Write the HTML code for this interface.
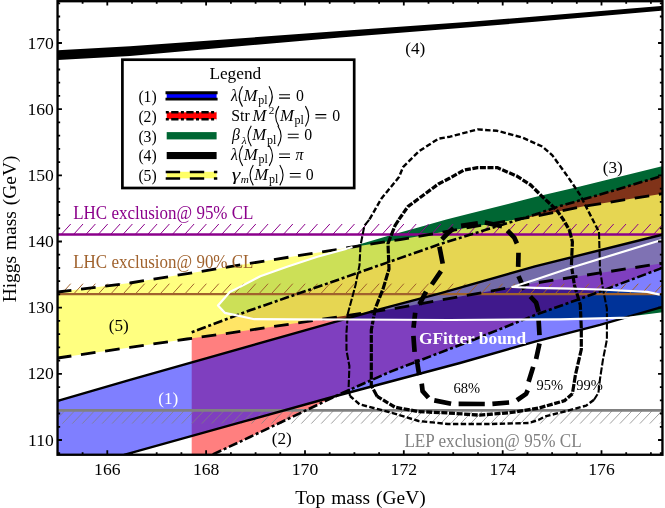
<!DOCTYPE html>
<html><head><meta charset="utf-8"><title>Higgs mass vs Top mass</title>
<style>
html,body{margin:0;padding:0;background:#fff;}
body{width:665px;height:508px;overflow:hidden;font-family:"Liberation Serif",serif;}
svg{display:block;will-change:transform;}
text{font-family:"Liberation Serif",serif;}
</style></head><body>
<svg width="665" height="508" viewBox="0 0 665 508">
<defs>
<clipPath id="cp"><rect x="57.7" y="1.2" width="604.8" height="453.6"/></clipPath>
</defs>
<rect width="665" height="508" fill="#fff"/>
<g clip-path="url(#cp)">
<path d="M666.0 165.4 L661.0 166.6 L580.0 186.5 L535.0 197.1 L470.0 213.6 L446.3 219.4 L420.0 226.9 L392.8 234.5 L355.6 245.4 L345.0 249.2 L317.4 256.7 L287.8 266.5 L260.3 276.3 L240.6 286.6 L229.8 292.1 L218.0 305.5 L224.8 312.8 L236.7 315.3 L254.4 319.2 L293.7 319.3 L345.0 319.5 L450.0 320.0 L560.0 319.3 L629.5 317.7 L661.0 313.7 L666.0 313.0 Z M666.0 238.6 L659.0 240.8 L570.0 268.0 L535.0 279.8 L512.3 287.0 L535.0 287.8 L570.0 288.6 L600.0 289.5 L647.3 291.9 L659.8 294.6 L666.0 295.5 Z" fill="#006633" fill-rule="evenodd"/>
<path d="M191.7 332.3 L250.0 310.3 L330.0 282.6 L440.0 244.1 L535.0 214.6 L560.0 206.0 L600.0 194.6 L661.0 176.2 L666.0 174.7 L666.0 266.6 L661.0 268.4 L594.7 293.5 L535.0 315.0 L470.0 341.2 L416.6 361.6 L390.0 371.9 L342.4 393.0 L250.0 437.0 L212.5 454.6 L191.7 464.5 Z" fill="#ff0000" fill-opacity="0.5"/>
<path d="M57.7 292.0 L130.0 283.0 L249.4 263.5 L345.0 248.2 L400.0 239.6 L460.0 229.0 L535.0 216.3 L584.0 206.3 L661.0 193.9 L666.0 193.1 L666.0 262.7 L661.0 263.5 L535.0 283.1 L460.0 296.6 L395.0 308.4 L345.0 315.8 L250.0 330.1 L187.0 339.0 L130.0 347.4 L57.7 358.0 Z" fill="#ffff60" fill-opacity="0.8"/>
<path d="M57.7 400.9 L130.0 379.8 L381.2 308.8 L440.0 293.3 L535.0 266.4 L661.0 235.0 L666.0 233.7 L666.0 305.9 L661.6 307.2 L600.0 324.9 L535.0 341.7 L460.0 363.0 L336.0 396.0 L245.0 421.2 L124.0 454.8 L57.7 460.0 Z" fill="#0000ff" fill-opacity="0.5"/>
<path d="M57.7 50.2 L130.0 46.3 L340.0 31.1 L470.0 21.7 L535.0 16.5 L661.0 6.0 L666.0 5.6 L666.0 10.4 L661.0 10.8 L535.0 21.8 L470.0 27.2 L340.0 37.4 L130.0 56.0 L57.7 60.1 Z" fill="#000"/>
<path d="M61.2 234.5l9.5 -10.5M73.5 234.5l9.5 -10.5M85.9 234.5l9.5 -10.5M98.2 234.5l9.5 -10.5M110.6 234.5l9.5 -10.5M122.9 234.5l9.5 -10.5M135.2 234.5l9.5 -10.5M147.6 234.5l9.5 -10.5M159.9 234.5l9.5 -10.5M172.3 234.5l9.5 -10.5M184.6 234.5l9.5 -10.5M196.9 234.5l9.5 -10.5M209.3 234.5l9.5 -10.5M221.6 234.5l9.5 -10.5M234.0 234.5l9.5 -10.5M246.3 234.5l9.5 -10.5M258.6 234.5l9.5 -10.5M271.0 234.5l9.5 -10.5M283.3 234.5l9.5 -10.5M295.7 234.5l9.5 -10.5M308.0 234.5l9.5 -10.5M320.3 234.5l9.5 -10.5M332.7 234.5l9.5 -10.5M345.0 234.5l9.5 -10.5M357.4 234.5l9.5 -10.5M369.7 234.5l9.5 -10.5M382.0 234.5l9.5 -10.5M394.4 234.5l9.5 -10.5M406.7 234.5l9.5 -10.5M419.1 234.5l9.5 -10.5M431.4 234.5l9.5 -10.5M443.7 234.5l9.5 -10.5M456.1 234.5l9.5 -10.5M468.4 234.5l9.5 -10.5M480.8 234.5l9.5 -10.5M493.1 234.5l9.5 -10.5M505.4 234.5l9.5 -10.5M517.8 234.5l9.5 -10.5M530.1 234.5l9.5 -10.5M542.5 234.5l9.5 -10.5M554.8 234.5l9.5 -10.5M567.1 234.5l9.5 -10.5M579.5 234.5l9.5 -10.5M591.8 234.5l9.5 -10.5M604.2 234.5l9.5 -10.5M616.5 234.5l9.5 -10.5M628.8 234.5l9.5 -10.5M641.2 234.5l9.5 -10.5M653.5 234.5l9.5 -10.5M665.9 234.5l9.5 -10.5" stroke="#8b008b" stroke-width="1.0" fill="none"/>
<path d="M61.2 294.2l9.5 -10.5M73.5 294.2l9.5 -10.5M85.9 294.2l9.5 -10.5M98.2 294.2l9.5 -10.5M110.6 294.2l9.5 -10.5M122.9 294.2l9.5 -10.5M135.2 294.2l9.5 -10.5M147.6 294.2l9.5 -10.5M159.9 294.2l9.5 -10.5M172.3 294.2l9.5 -10.5M184.6 294.2l9.5 -10.5M196.9 294.2l9.5 -10.5M209.3 294.2l9.5 -10.5M221.6 294.2l9.5 -10.5M234.0 294.2l9.5 -10.5M246.3 294.2l9.5 -10.5M258.6 294.2l9.5 -10.5M271.0 294.2l9.5 -10.5M283.3 294.2l9.5 -10.5M295.7 294.2l9.5 -10.5M308.0 294.2l9.5 -10.5M320.3 294.2l9.5 -10.5M332.7 294.2l9.5 -10.5M345.0 294.2l9.5 -10.5M357.4 294.2l9.5 -10.5M369.7 294.2l9.5 -10.5M382.0 294.2l9.5 -10.5M394.4 294.2l9.5 -10.5M406.7 294.2l9.5 -10.5M419.1 294.2l9.5 -10.5M431.4 294.2l9.5 -10.5M443.7 294.2l9.5 -10.5M456.1 294.2l9.5 -10.5M468.4 294.2l9.5 -10.5M480.8 294.2l9.5 -10.5M493.1 294.2l9.5 -10.5M505.4 294.2l9.5 -10.5M517.8 294.2l9.5 -10.5M530.1 294.2l9.5 -10.5M542.5 294.2l9.5 -10.5M554.8 294.2l9.5 -10.5M567.1 294.2l9.5 -10.5M579.5 294.2l9.5 -10.5M591.8 294.2l9.5 -10.5M604.2 294.2l9.5 -10.5M616.5 294.2l9.5 -10.5M628.8 294.2l9.5 -10.5M641.2 294.2l9.5 -10.5M653.5 294.2l9.5 -10.5M665.9 294.2l9.5 -10.5" stroke="#a0622d" stroke-width="1.0" fill="none"/>
<path d="M65.0 410.4l-12.6 13.2M75.0 410.4l-12.6 13.2M84.9 410.4l-12.6 13.2M94.9 410.4l-12.6 13.2M104.8 410.4l-12.6 13.2M114.8 410.4l-12.6 13.2M124.7 410.4l-12.6 13.2M134.7 410.4l-12.6 13.2M144.7 410.4l-12.6 13.2M154.6 410.4l-12.6 13.2M164.6 410.4l-12.6 13.2M174.5 410.4l-12.6 13.2M184.5 410.4l-12.6 13.2M194.4 410.4l-12.6 13.2M204.4 410.4l-12.6 13.2M214.4 410.4l-12.6 13.2M224.3 410.4l-12.6 13.2M234.3 410.4l-12.6 13.2M244.2 410.4l-12.6 13.2M254.2 410.4l-12.6 13.2M264.1 410.4l-12.6 13.2M274.1 410.4l-12.6 13.2M284.1 410.4l-12.6 13.2M294.0 410.4l-12.6 13.2M304.0 410.4l-12.6 13.2M313.9 410.4l-12.6 13.2M323.9 410.4l-12.6 13.2M333.8 410.4l-12.6 13.2M343.8 410.4l-12.6 13.2M353.8 410.4l-12.6 13.2M363.7 410.4l-12.6 13.2M373.7 410.4l-12.6 13.2M383.6 410.4l-12.6 13.2M393.6 410.4l-12.6 13.2M403.5 410.4l-12.6 13.2M413.5 410.4l-12.6 13.2M423.5 410.4l-12.6 13.2M433.4 410.4l-12.6 13.2M443.4 410.4l-12.6 13.2M453.3 410.4l-12.6 13.2M463.3 410.4l-12.6 13.2M473.2 410.4l-12.6 13.2M483.2 410.4l-12.6 13.2M493.2 410.4l-12.6 13.2M503.1 410.4l-12.6 13.2M513.1 410.4l-12.6 13.2M523.0 410.4l-12.6 13.2M533.0 410.4l-12.6 13.2M542.9 410.4l-12.6 13.2M552.9 410.4l-12.6 13.2M562.8 410.4l-12.6 13.2M572.8 410.4l-12.6 13.2M582.8 410.4l-12.6 13.2M592.7 410.4l-12.6 13.2M602.7 410.4l-12.6 13.2M612.6 410.4l-12.6 13.2M622.6 410.4l-12.6 13.2M632.5 410.4l-12.6 13.2M642.5 410.4l-12.6 13.2M652.5 410.4l-12.6 13.2M662.4 410.4l-12.6 13.2M672.4 410.4l-12.6 13.2" stroke="#808080" stroke-width="0.75" fill="none"/>
<line x1="57" x2="664" y1="234.5" y2="234.5" stroke="#8b008b" stroke-width="2.5"/>
<line x1="57" x2="664" y1="294.1" y2="294.1" stroke="#a0622d" stroke-width="2.4"/>
<line x1="57" x2="664" y1="410.4" y2="410.4" stroke="#808080" stroke-width="2.7"/>
<path d="M57.7 400.9 L130.0 379.8 L381.2 308.8 L440.0 293.3 L535.0 266.4 L661.0 235.0 L666.0 233.7" fill="none" stroke="#000" stroke-width="2.4"/>
<path d="M124.0 454.8 L245.0 421.2 L336.0 396.0 L460.0 363.0 L535.0 341.7 L600.0 324.9 L661.6 307.2 L666.0 305.9" fill="none" stroke="#000" stroke-width="2.4"/>
<path d="M191.7 332.3 L250.0 310.3 L330.0 282.6 L440.0 244.1 L535.0 214.6 L560.0 206.0 L600.0 194.6 L661.0 176.2 L666.0 174.7" fill="none" stroke="#000" stroke-width="2.6" stroke-dasharray="3 2.7 9.3 2.7"/>
<path d="M191.7 464.5 L212.5 454.6 L250.0 437.0 L342.4 393.0 L390.0 371.9 L416.6 361.6 L470.0 341.2 L535.0 315.0 L594.7 293.5 L661.0 268.4 L666.0 266.6" fill="none" stroke="#000" stroke-width="2.6" stroke-dasharray="3 2.7 9.3 2.7"/>
<path d="M57.7 292.0 L130.0 283.0 L249.4 263.5 L345.0 248.2 L400.0 239.6 L460.0 229.0 L535.0 216.3 L584.0 206.3 L661.0 193.9 L666.0 193.1" fill="none" stroke="#000" stroke-width="2.8" stroke-dasharray="14.7 9.7" stroke-dashoffset="0.9"/>
<path d="M57.7 358.0 L130.0 347.4 L187.0 339.0 L250.0 330.1 L345.0 315.8 L395.0 308.4 L460.0 296.6 L535.0 283.1 L661.0 263.5 L666.0 262.7" fill="none" stroke="#000" stroke-width="2.8" stroke-dasharray="14.7 9.7" stroke-dashoffset="0.9"/>
<path d="M369.5 219.4 L381.3 198.7 L399.0 177.1 L403.0 167.2 L418.7 151.5 L438.4 138.7 L450.0 136.7 L477.6 129.4 L497.2 130.8 L522.8 137.7 L542.5 146.6 L552.4 155.4 L568.1 177.1 L580.0 194.8 L599.0 232.0" fill="none" stroke="#000" stroke-width="2.4" stroke-dasharray="5.4 2.4" stroke-linejoin="round"/>
<path d="M599.0 232.0 L600.0 269.4 L603.0 289.0 L606.9 308.7 L606.9 339.7 L603.0 359.4 L600.0 379.0 L598.4 392.8 L594.0 399.7" fill="none" stroke="#000" stroke-width="2.1" stroke-dasharray="7.2 1.9" stroke-linejoin="round"/>
<path d="M594.0 399.7 L586.2 405.6 L564.5 411.5 L545.0 416.5 L538.4 420.0 L528.6 423.0 L489.2 424.0 L448.0 424.0 L418.6 421.0 L389.0 412.0 L359.5 404.3 L350.0 396.0" fill="none" stroke="#000" stroke-width="2.4" stroke-dasharray="5.4 2.4" stroke-linejoin="round"/>
<path d="M350.0 396.0 L348.6 388.0 L349.4 366.0 L346.5 350.6 L346.4 333.3 L347.8 313.8 L355.6 284.8 L359.5 265.1 L360.5 245.4 L364.4 225.7 L369.5 219.4" fill="none" stroke="#000" stroke-width="2.1" stroke-dasharray="7.2 1.9" stroke-linejoin="round"/>
<path d="M399.0 219.4 L407.9 206.6 L438.4 184.0 L450.0 178.0 L463.8 170.2 L477.6 167.6 L497.2 167.6 L516.9 176.1 L530.7 185.0 L542.5 196.8 L556.3 209.6 L563.2 219.4 L569.4 230.0" fill="none" stroke="#000" stroke-width="3.3" stroke-dasharray="6 1.6" stroke-linejoin="round"/>
<path d="M569.4 230.0 L572.4 241.8 L571.4 265.4 L574.4 285.1 L580.3 304.8 L581.3 328.4 L581.3 349.5 L575.4 375.0 L572.4 393.8" fill="none" stroke="#000" stroke-width="3.2" stroke-dasharray="7.8 1.4" stroke-linejoin="round"/>
<path d="M572.4 393.8 L564.5 400.7 L538.4 408.2 L509.0 412.8 L479.4 415.1 L448.0 413.0 L418.6 411.6 L395.0 407.2 L377.2 396.4" fill="none" stroke="#000" stroke-width="3.3" stroke-dasharray="6 1.6" stroke-linejoin="round"/>
<path d="M377.2 396.4 L371.3 385.6 L371.3 330.0 L375.3 308.4 L383.1 288.7 L389.0 269.0 L388.0 243.5 L395.0 225.7 L399.0 219.4" fill="none" stroke="#000" stroke-width="3.2" stroke-dasharray="7.8 1.4" stroke-linejoin="round"/>
<path d="M441.9 239.3 L447.5 233.5 L453.6 228.4 M461.1 225.9 L477.9 223.4 M484.8 222.5 L502.0 226.3 M507.4 230.5 L514.3 237.6 L516.9 243.5 M518.5 252.7 L518.2 266.9 M518.5 276.1 L524.4 289.5 M530.3 296.5 L536.1 302.6 L538.6 311.8 M538.6 320.2 L539.5 335.2 M539.5 343.6 L536.1 359.0 M533.2 366.9 L528.6 381.8 M527.7 390.2 L526.1 393.9 L516.9 400.3 M509.1 402.5 L492.4 403.8 M484.8 404.0 L458.6 403.9 M451.1 403.7 L434.3 400.4 M428.5 397.8 L422.6 391.1 L421.7 383.6 M419.2 375.2 L416.7 359.3 M414.6 351.9 L413.4 335.9 M413.5 327.7 L415.2 312.7 M419.4 304.3 L426.1 291.7 M431.8 284.5 L441.0 271.1 M442.7 263.6 L439.4 246.8" fill="none" stroke="#000" stroke-width="4.7" stroke-linejoin="round"/>
<path d="M352.5 247.0 L345.0 249.2 L317.4 256.7 L287.8 266.5 L260.3 276.3 L240.6 286.6 L229.8 292.1 L218.0 305.5 L224.8 312.8 L236.7 315.3 L254.4 319.2 L293.7 319.3 L345.0 319.5 L450.0 320.0 L560.0 319.3 L629.5 317.7 L661.0 313.7 L666.0 313.0" fill="none" stroke="#fff" stroke-width="2.2" stroke-linejoin="round"/>
<path d="M666.0 238.6 L659.0 240.8 L570.0 268.0 L535.0 279.8 L512.3 287.0 L535.0 287.8 L570.0 288.6 L600.0 289.5 L647.3 291.9 L659.8 294.6" fill="none" stroke="#fff" stroke-width="2.2" stroke-linejoin="round"/>
</g>
<rect x="57.55" y="1.2" width="604.9000000000001" height="453.55" fill="none" stroke="#000" stroke-width="2.35"/>
<path d="M57.9 454.75v-2.6M57.9 1.2v2.6M82.6 454.75v-2.6M82.6 1.2v2.6M107.3 454.75v-4.4M107.3 1.2v4.4M132.0 454.75v-2.6M132.0 1.2v2.6M156.7 454.75v-2.6M156.7 1.2v2.6M181.4 454.75v-2.6M181.4 1.2v2.6M206.1 454.75v-4.4M206.1 1.2v4.4M230.9 454.75v-2.6M230.9 1.2v2.6M255.6 454.75v-2.6M255.6 1.2v2.6M280.3 454.75v-2.6M280.3 1.2v2.6M305.0 454.75v-4.4M305.0 1.2v4.4M329.7 454.75v-2.6M329.7 1.2v2.6M354.4 454.75v-2.6M354.4 1.2v2.6M379.1 454.75v-2.6M379.1 1.2v2.6M403.8 454.75v-4.4M403.8 1.2v4.4M428.5 454.75v-2.6M428.5 1.2v2.6M453.2 454.75v-2.6M453.2 1.2v2.6M478.0 454.75v-2.6M478.0 1.2v2.6M502.7 454.75v-4.4M502.7 1.2v4.4M527.4 454.75v-2.6M527.4 1.2v2.6M552.1 454.75v-2.6M552.1 1.2v2.6M576.8 454.75v-2.6M576.8 1.2v2.6M601.5 454.75v-4.4M601.5 1.2v4.4M626.2 454.75v-2.6M626.2 1.2v2.6M650.9 454.75v-2.6M650.9 1.2v2.6M57.55 453.2h2.6M662.45 453.2h-2.6M57.55 440.0h4.4M662.45 440.0h-4.4M57.55 426.8h2.6M662.45 426.8h-2.6M57.55 413.5h2.6M662.45 413.5h-2.6M57.55 400.3h2.6M662.45 400.3h-2.6M57.55 387.1h2.6M662.45 387.1h-2.6M57.55 373.8h4.4M662.45 373.8h-4.4M57.55 360.6h2.6M662.45 360.6h-2.6M57.55 347.4h2.6M662.45 347.4h-2.6M57.55 334.1h2.6M662.45 334.1h-2.6M57.55 320.9h2.6M662.45 320.9h-2.6M57.55 307.7h4.4M662.45 307.7h-4.4M57.55 294.4h2.6M662.45 294.4h-2.6M57.55 281.2h2.6M662.45 281.2h-2.6M57.55 268.0h2.6M662.45 268.0h-2.6M57.55 254.7h2.6M662.45 254.7h-2.6M57.55 241.5h4.4M662.45 241.5h-4.4M57.55 228.3h2.6M662.45 228.3h-2.6M57.55 215.0h2.6M662.45 215.0h-2.6M57.55 201.8h2.6M662.45 201.8h-2.6M57.55 188.6h2.6M662.45 188.6h-2.6M57.55 175.3h4.4M662.45 175.3h-4.4M57.55 162.1h2.6M662.45 162.1h-2.6M57.55 148.9h2.6M662.45 148.9h-2.6M57.55 135.6h2.6M662.45 135.6h-2.6M57.55 122.4h2.6M662.45 122.4h-2.6M57.55 109.2h4.4M662.45 109.2h-4.4M57.55 95.9h2.6M662.45 95.9h-2.6M57.55 82.7h2.6M662.45 82.7h-2.6M57.55 69.5h2.6M662.45 69.5h-2.6M57.55 56.2h2.6M662.45 56.2h-2.6M57.55 43.0h4.4M662.45 43.0h-4.4M57.55 29.8h2.6M662.45 29.8h-2.6M57.55 16.5h2.6M662.45 16.5h-2.6M57.55 3.3h2.6M662.45 3.3h-2.6" stroke="#000" stroke-width="1.8" fill="none"/>
<text x="107.3" y="475" font-size="17.6" text-anchor="middle">166</text>
<text x="206.1" y="475" font-size="17.6" text-anchor="middle">168</text>
<text x="305.0" y="475" font-size="17.6" text-anchor="middle">170</text>
<text x="403.8" y="475" font-size="17.6" text-anchor="middle">172</text>
<text x="502.7" y="475" font-size="17.6" text-anchor="middle">174</text>
<text x="601.5" y="475" font-size="17.6" text-anchor="middle">176</text>
<text x="53.8" y="445.6" font-size="17.6" text-anchor="end">110</text>
<text x="53.8" y="379.4" font-size="17.6" text-anchor="end">120</text>
<text x="53.8" y="313.3" font-size="17.6" text-anchor="end">130</text>
<text x="53.8" y="247.1" font-size="17.6" text-anchor="end">140</text>
<text x="53.8" y="180.9" font-size="17.6" text-anchor="end">150</text>
<text x="53.8" y="114.8" font-size="17.6" text-anchor="end">160</text>
<text x="53.8" y="48.6" font-size="17.6" text-anchor="end">170</text>
<text x="360.5" y="504" font-size="19.4" text-anchor="middle" word-spacing="1.2">Top mass (GeV)</text>
<text transform="translate(16,229) rotate(-90)" font-size="19.4" text-anchor="middle" word-spacing="1.2">Higgs mass (GeV)</text>
<text x="405.3" y="53.5" font-size="17.2" fill="#000" >(4)</text>
<text x="602.8" y="172.5" font-size="17.2" fill="#000" >(3)</text>
<text x="108.8" y="330.8" font-size="17.2" fill="#000" >(5)</text>
<text x="158.2" y="403.8" font-size="17.2" fill="#fff" >(1)</text>
<text x="271.8" y="443.8" font-size="17.2" fill="#000" >(2)</text>
<text x="453.4" y="392.5" font-size="14.5" fill="#000" >68%</text>
<text x="536.5" y="390" font-size="14.5" fill="#000" >95%</text>
<text x="576.3" y="390" font-size="14.5" fill="#000" >99%</text>
<text x="418.9" y="344.3" font-size="17.5" fill="#fff" font-weight="bold" textLength="107.3" lengthAdjust="spacingAndGlyphs">GFitter bound</text>
<text x="73.2" y="219" font-size="17.8" fill="#8b008b" textLength="180.3" lengthAdjust="spacingAndGlyphs">LHC exclusion@ 95% CL</text>
<text x="73.2" y="267.5" font-size="17.8" fill="#a0622d" textLength="180.3" lengthAdjust="spacingAndGlyphs">LHC exclusion@ 90% CL</text>
<text x="404.4" y="446.6" font-size="17.8" fill="#808080" textLength="177.3" lengthAdjust="spacingAndGlyphs">LEP exclusion@ 95% CL</text>
<rect x="122.4" y="59.7" width="231.8" height="128.3" fill="#fff" stroke="#000" stroke-width="2.7"/>
<text x="209.4" y="78.5" font-size="17.3">Legend</text>
<text x="138.4" y="101.9" font-size="15.7">(1)</text>
<text x="138.4" y="121.7" font-size="15.7">(2)</text>
<text x="138.4" y="141.5" font-size="15.7">(3)</text>
<text x="138.4" y="161.3" font-size="15.7">(4)</text>
<text x="138.4" y="181.1" font-size="15.7">(5)</text>
<rect x="166.7" y="92.5" width="49.900000000000006" height="7" fill="#0000ff"/>
<path d="M165.5 92.8H217.6M165.5 99.15H217.6" stroke="#000" stroke-width="2.9"/>
<rect x="166.7" y="112.3" width="49.900000000000006" height="6.9" fill="#ff0000"/>
<path d="M165.8 112.2H216.6M165.8 119.2H216.6" stroke="#000" stroke-width="2.5" stroke-dasharray="3 2.4 7.3 2.4"/>
<rect x="166.7" y="132.1" width="49.900000000000006" height="7.3" fill="#006633"/>
<rect x="166.7" y="152" width="49.900000000000006" height="7.1" fill="#000"/>
<rect x="166.7" y="171.8" width="49.900000000000006" height="6.5" fill="#ffff66"/>
<path d="M165.7 172H217.29999999999998M165.7 178.6H217.29999999999998" stroke="#000" stroke-width="2.5" stroke-dasharray="14.4 9.7"/>
<text x="230.9" y="100.8" font-size="15.8" font-style="italic" >λ</text>
<path d="M242.5 86.2Q235.9 96.4 242.5 106.6" fill="none" stroke="#000" stroke-width="1.1"/>
<text x="243.5" y="100.8" font-size="16.6" font-style="italic" >M</text>
<text x="258.2" y="104.1" font-size="12" >pl</text>
<path d="M269.0 86.2Q275.6 96.4 269.0 106.6" fill="none" stroke="#000" stroke-width="1.1"/>
<path d="M279.1 94.7h10.9M279.1 98.1h10.9" stroke="#000" stroke-width="1.05" fill="none"/>
<text x="295.9" y="100.8" font-size="15.8" >0</text>
<text x="231.3" y="120.7" font-size="15.8" >Str</text>
<text x="252.4" y="120.7" font-size="16.6" font-style="italic" >M</text>
<text x="268.7" y="114.3" font-size="11.2" >2</text>
<path d="M278.9 106.1Q272.3 116.3 278.9 126.5" fill="none" stroke="#000" stroke-width="1.1"/>
<text x="279.9" y="120.7" font-size="16.6" font-style="italic" >M</text>
<text x="294.6" y="124.0" font-size="12" >pl</text>
<path d="M305.4 106.1Q312.0 116.3 305.4 126.5" fill="none" stroke="#000" stroke-width="1.1"/>
<path d="M315.4 114.6h10.9M315.4 118.0h10.9" stroke="#000" stroke-width="1.05" fill="none"/>
<text x="332.3" y="120.7" font-size="15.8" >0</text>
<text x="231.9" y="140.4" font-size="15.8" font-style="italic" >β</text>
<text x="241.7" y="143.6" font-size="11.2" font-style="italic" >λ</text>
<path d="M251.3 125.8Q244.7 136.0 251.3 146.2" fill="none" stroke="#000" stroke-width="1.1"/>
<text x="252.3" y="140.4" font-size="16.6" font-style="italic" >M</text>
<text x="267.0" y="143.7" font-size="12" >pl</text>
<path d="M277.8 125.8Q284.4 136.0 277.8 146.2" fill="none" stroke="#000" stroke-width="1.1"/>
<path d="M287.8 134.3h10.9M287.8 137.7h10.9" stroke="#000" stroke-width="1.05" fill="none"/>
<text x="304.3" y="140.4" font-size="15.8" >0</text>
<text x="230.9" y="160.1" font-size="15.8" font-style="italic" >λ</text>
<path d="M242.7 145.5Q236.1 155.7 242.7 165.9" fill="none" stroke="#000" stroke-width="1.1"/>
<text x="243.7" y="160.1" font-size="16.6" font-style="italic" >M</text>
<text x="258.4" y="163.4" font-size="12" >pl</text>
<path d="M269.2 145.5Q275.8 155.7 269.2 165.9" fill="none" stroke="#000" stroke-width="1.1"/>
<path d="M279.1 154.0h10.9M279.1 157.4h10.9" stroke="#000" stroke-width="1.05" fill="none"/>
<text x="295.4" y="160.1" font-size="15.8" font-style="italic" >π</text>
<text x="231.7" y="179.6" font-size="17" font-style="italic" textLength="8.6" lengthAdjust="spacingAndGlyphs">γ</text>
<text x="240.7" y="182.8" font-size="11.2" font-style="italic" >m</text>
<path d="M253.3 165.0Q246.7 175.2 253.3 185.4" fill="none" stroke="#000" stroke-width="1.1"/>
<text x="254.3" y="179.6" font-size="16.6" font-style="italic" >M</text>
<text x="269.0" y="182.9" font-size="12" >pl</text>
<path d="M279.8 165.0Q286.4 175.2 279.8 185.4" fill="none" stroke="#000" stroke-width="1.1"/>
<path d="M289.8 173.5h10.9M289.8 176.9h10.9" stroke="#000" stroke-width="1.05" fill="none"/>
<text x="305.7" y="179.6" font-size="15.8" >0</text>
</svg></body></html>
